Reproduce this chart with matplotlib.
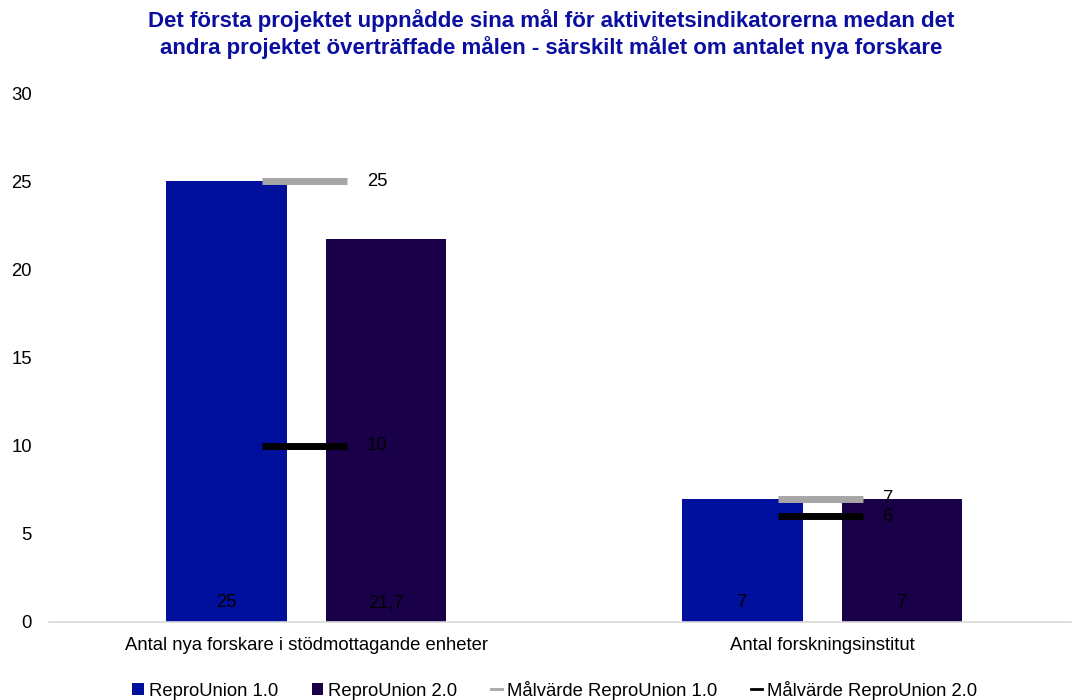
import matplotlib
matplotlib.use("Agg")
import matplotlib.pyplot as plt
from matplotlib.patches import Patch
from matplotlib.lines import Line2D
import numpy as np

plt.rcParams['font.family'] = ['Liberation Sans', 'DejaVu Sans']

title = ("Det första projektet uppnådde sina mål för aktivitetsindikatorerna medan det\n"
         "andra projektet överträffade målen - särskilt målet om antalet nya forskare")
categories = ["Antal nya forskare i stödmottagande enheter", "Antal forskningsinstitut"]
series_names = ["ReproUnion 1.0", "ReproUnion 2.0", "Målvärde ReproUnion 1.0", "Målvärde ReproUnion 2.0"]
ru1 = [25, 7]
ru2 = [21.7, 7]
target1 = [25, 7]
target2 = [10, 6]
yticks = [0, 5, 10, 15, 20, 25, 30]

c_blue = "#000F9C"
c_purple = "#1A0049"
c_gray = "#A6A6A6"
c_black = "#000000"
c_title = "#0A0FA0"

def fmt(v):
    s = f"{v:g}"
    return s.replace(".", ",")

W, H = 1072, 700
fig = plt.figure(figsize=(W / 100, H / 100), dpi=100)
ax = fig.add_axes([49 / W, (H - 622) / H, (1071 - 49) / W, (622 - 93) / H])

x = np.arange(len(categories))
bw = 0.2326
off = 0.155
ax.bar(x - off, ru1, width=bw, color=c_blue, zorder=2)
ax.bar(x + off, ru2, width=bw, color=c_purple, zorder=2)

hw = 0.083
xc = x - 0.004
ax.hlines(target1, xc - hw, xc + hw, colors=c_gray, linewidth=5, zorder=3, capstyle='butt')
ax.hlines(target2, xc - hw, xc + hw, colors=c_black, linewidth=5, zorder=3, capstyle='butt')

fs = 13.3
for i in range(len(categories)):
    ax.text(x[i] - off, 1.1, fmt(ru1[i]), ha='center', va='center', fontsize=fs, color='black', zorder=4)
    ax.text(x[i] + off, 1.1, fmt(ru2[i]), ha='center', va='center', fontsize=fs, color='black', zorder=4)
    ax.text(xc[i] + hw + 0.038, target1[i], fmt(target1[i]), ha='left', va='center', fontsize=fs, color='black', zorder=4)
    ax.text(xc[i] + hw + 0.038, target2[i], fmt(target2[i]), ha='left', va='center', fontsize=fs, color='black', zorder=4)

ax.set_ylim(0, 30)
ax.set_xlim(-0.499, 1.4816)
ax.set_yticks(yticks)
ax.set_yticklabels([str(t) for t in yticks], fontsize=fs)
ax.set_xticks(x)
ax.set_xticklabels(categories, fontsize=fs)
ax.tick_params(axis='both', length=0)
ax.tick_params(axis='y', pad=12.2)
ax.tick_params(axis='x', pad=11)
for s in ['top', 'right', 'left']:
    ax.spines[s].set_visible(False)
ax.spines['bottom'].set_color('#D9D9D9')
ax.spines['bottom'].set_linewidth(1.2)
ax.spines['bottom'].set_zorder(5)

fig.text(551 / W, 1 - 34 / H, title, ha='center', va='center', fontsize=16,
         fontweight='bold', color=c_title, linespacing=1.2)

handles = [
    Patch(facecolor=c_blue, edgecolor='none'),
    Patch(facecolor=c_purple, edgecolor='none'),
    Line2D([0], [0], color=c_gray, linewidth=2),
    Line2D([0], [0], color=c_black, linewidth=2),
]
fig.legend(handles, series_names, loc='center', bbox_to_anchor=(555 / W, 1 - 690 / H),
           ncol=4, frameon=False, fontsize=fs, handlelength=0.6, handleheight=0.6,
           handletextpad=0.3, columnspacing=1.8)

fig.savefig("out.png", dpi=100)
